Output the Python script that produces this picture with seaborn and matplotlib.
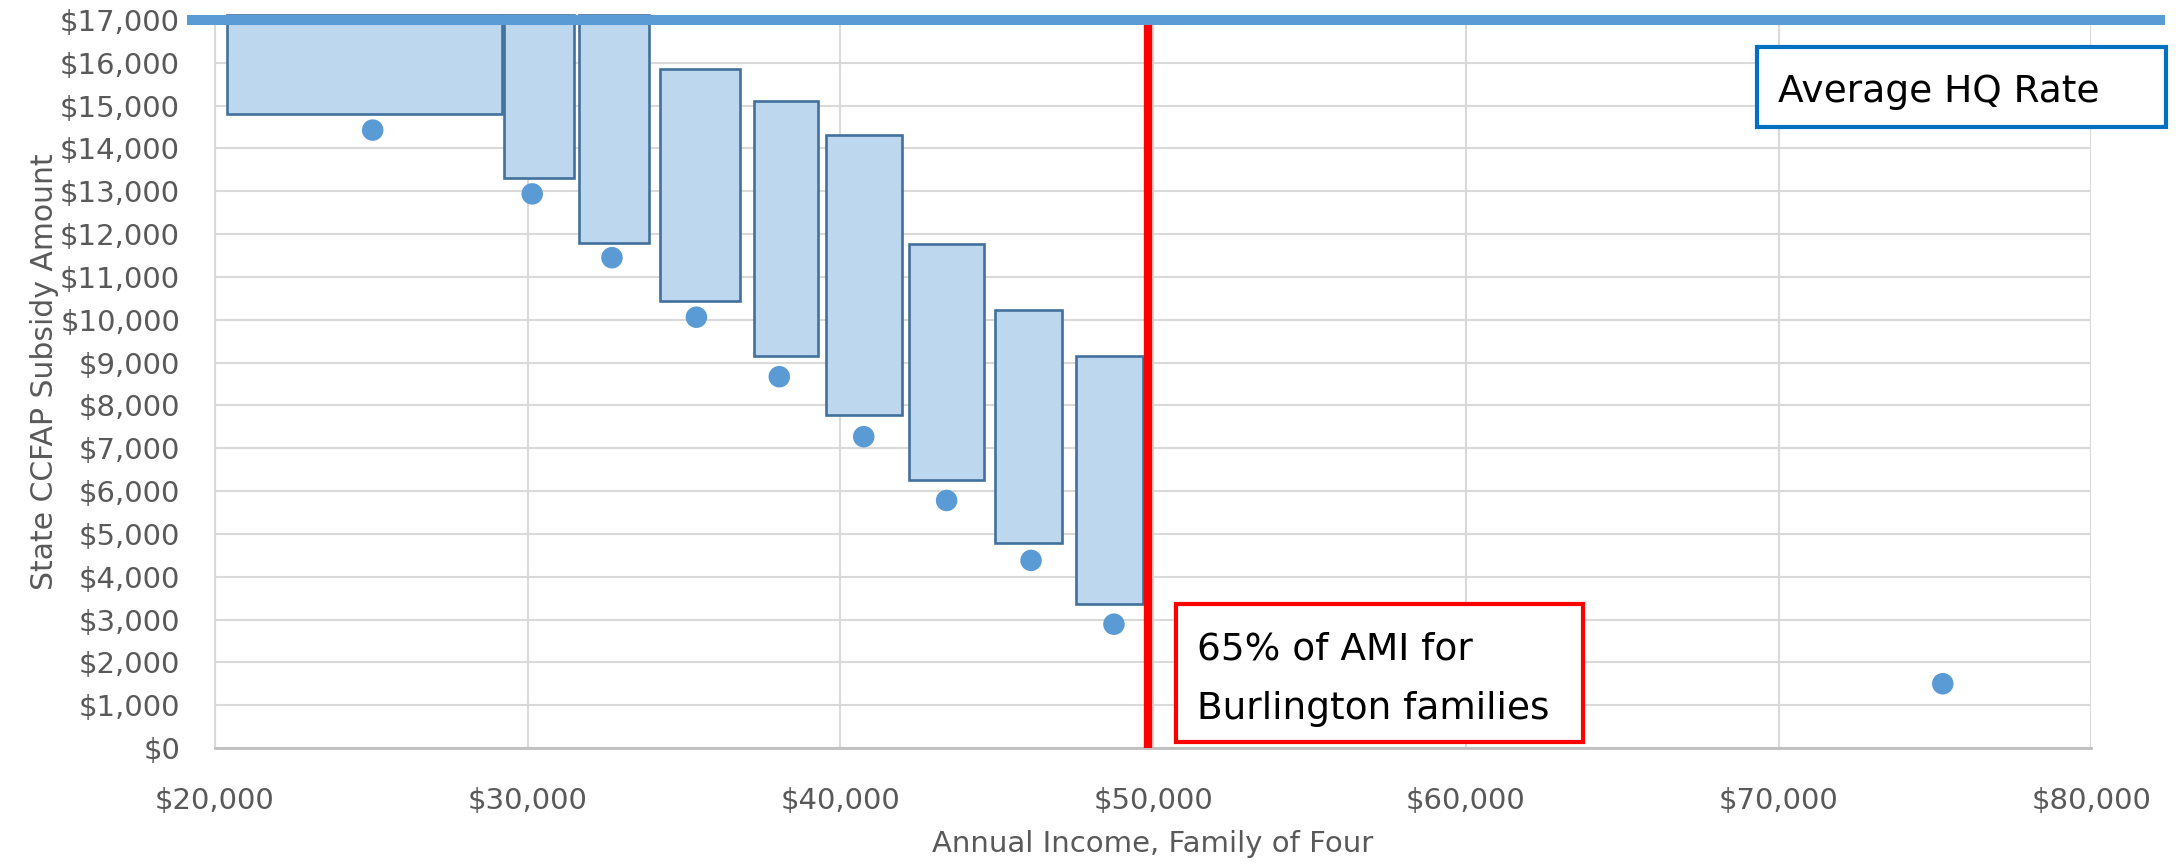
import matplotlib.pyplot as plt
import matplotlib.ticker as mticker
from matplotlib.patches import Rectangle
import seaborn as sns
import pandas as pd

# subsidy ranges per income band (boxes)
box_left = [20380, 29240, 31650, 34230, 37240, 39550, 42200, 44940, 47540]
box_right = [29190, 31490, 33870, 36780, 39280, 41980, 44600, 47090, 49680]
box_top = [17120, 17120, 17120, 15860, 15110, 14320, 11760, 10230, 9150]
box_bottom = [14810, 13300, 11800, 10440, 9150, 7770, 6260, 4780, 3360]

# state subsidy points
dot_income = [25050, 30150, 32700, 35400, 38050, 40750, 43400, 46100, 48750, 75250]
dot_subsidy = [14430, 12940, 11450, 10060, 8670, 7270, 5780, 4380, 2890, 1500]

hq_rate = 17000
ami_65 = 49850

x_ticks = [20000, 30000, 40000, 50000, 60000, 70000, 80000]
y_ticks = list(range(0, 17001, 1000))

sns.set_theme(style='whitegrid')
plt.rcParams['font.family'] = ['DejaVu Sans']

fig = plt.figure(figsize=(21.78, 8.67), dpi=100)
ax = fig.add_axes([0.0986, 0.1373, 0.8616, 0.8396])

heights = [t - b for t, b in zip(box_top, box_bottom)]
widths = [r - l for l, r in zip(box_left, box_right)]
ax.bar(box_left, heights, width=widths, bottom=box_bottom, align='edge',
       color='#BDD7EE', edgecolor='#41719C', linewidth=1.9, clip_on=False, zorder=3)

dots = pd.DataFrame({'income': dot_income, 'subsidy': dot_subsidy})
sns.scatterplot(data=dots, x='income', y='subsidy', ax=ax, s=240,
                color='#5B9BD5', edgecolor='none', zorder=4, clip_on=False)

# 65% AMI line and HQ rate line
ax.axvline(ami_65, color='#FF0000', lw=6, zorder=5)
ax.axhline(hq_rate, xmin=-0.015, xmax=1.039, color='#5B9BD5', lw=7.2,
           solid_capstyle='butt', clip_on=False, zorder=6)

ax.set_xlim(20000, 80000)
ax.set_ylim(0, 17000)
ax.set_xticks(x_ticks)
ax.set_yticks(y_ticks)
ax.xaxis.set_major_formatter(mticker.StrMethodFormatter('${x:,.0f}'))
ax.yaxis.set_major_formatter(mticker.StrMethodFormatter('${x:,.0f}'))
ax.tick_params(axis='both', labelsize=21, colors='#595959', length=0)
ax.tick_params(axis='x', pad=28)
ax.tick_params(axis='y', pad=25)

ax.grid(True, color='#D9D9D9', lw=1.5)
ax.set_axisbelow(True)
ax.set_facecolor('white')
for side in ['top', 'right']:
    ax.spines[side].set_visible(False)
ax.spines['left'].set_color('#D9D9D9')
ax.spines['left'].set_linewidth(1.5)
ax.spines['bottom'].set_color('#BFBFBF')
ax.spines['bottom'].set_linewidth(2)

ax.set_xlabel('Annual Income, Family of Four', fontsize=21, color='#595959')
ax.set_ylabel('State CCFAP Subsidy Amount', fontsize=21.5, color='#595959')
ax.xaxis.set_label_coords(0.5, -0.113)
ax.yaxis.set_label_coords(-0.083, 0.517)

# callout boxes
fig.add_artist(Rectangle((0.8067, 0.8535), 0.1878, 0.0923, transform=fig.transFigure,
                         facecolor='white', edgecolor='#0070C0', lw=3, zorder=7))
fig.text(0.8163, 0.8824, 'Average HQ Rate', fontsize=27, color='black',
         va='baseline', zorder=8)

fig.add_artist(Rectangle((0.5399, 0.1442), 0.1869, 0.1592, transform=fig.transFigure,
                         facecolor='white', edgecolor='#FF0000', lw=3, zorder=7))
fig.text(0.5494, 0.2722, '65% of AMI for\nBurlington families', fontsize=27,
         color='black', va='top', linespacing=1.85, zorder=8)

fig.savefig('out.png', dpi=100)
